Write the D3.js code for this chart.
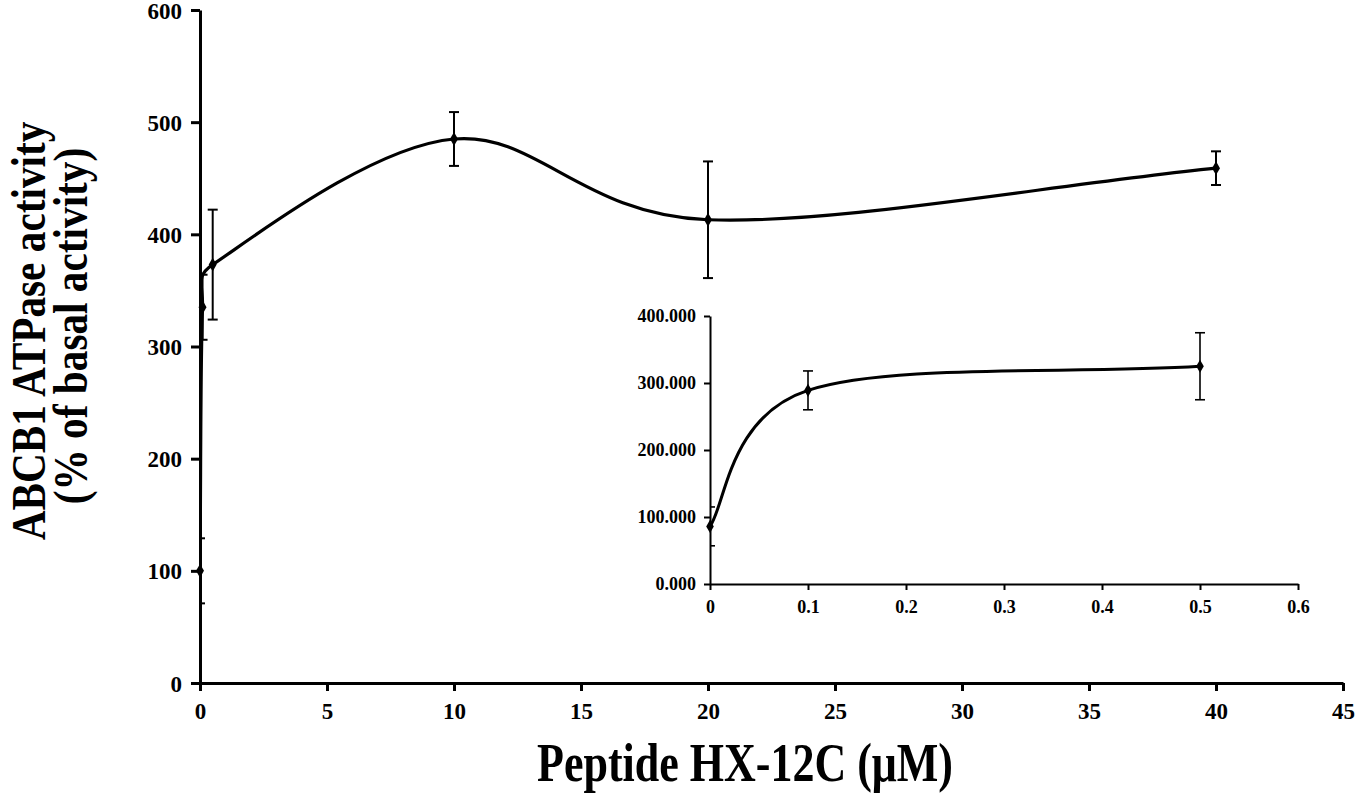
<!DOCTYPE html>
<html>
<head>
<meta charset="utf-8">
<script src="https://cdn.jsdelivr.net/npm/d3@7"></script>
<style>
  body { margin: 0; background: #fff; }
  text { font-family: "Liberation Serif", "Times New Roman", serif; font-weight: bold; }
</style>
</head>
<body>
<div class="viz"></div>
<script>
// main chart data (peptide concentration in uM, % of basal activity)
var conc = [0, 0.1, 0.5, 10, 20, 40];
var activity = [100, 335, 373, 485, 413, 459];
var activityErr = [29, 29, 49, 24, 52, 15];

// inset data (low concentration range)
var insetConc = [0, 0.1, 0.5];
var insetActivity = [86, 289, 325];
var insetErr = [29, 29, 50];

var xTicks = [0, 5, 10, 15, 20, 25, 30, 35, 40, 45];
var yTicks = [0, 100, 200, 300, 400, 500, 600];
var insetXTicks = [0, 0.1, 0.2, 0.3, 0.4, 0.5, 0.6];
var insetYTicks = [0, 100, 200, 300, 400];

var W = 1358, H = 795;

// spreadsheet-style smoothed line: bezier segments, control arms capped at half the segment
function SmoothCurve(context) { this._context = context; }
SmoothCurve.prototype = {
  areaStart: function() {}, areaEnd: function() {},
  lineStart: function() { this._p = []; },
  point: function(x, y) { this._p.push([+x, +y]); },
  lineEnd: function() {
    var p = this._p, n = p.length, c = this._context;
    if (!n) return;
    c.moveTo(p[0][0], p[0][1]);
    var dist = (a, b) => Math.hypot(b[0] - a[0], b[1] - a[1]);
    for (var i = 0; i < n - 1; i++) {
      var p0 = p[Math.max(i - 1, 0)], p1 = p[i], p2 = p[i + 1], p3 = p[Math.min(i + 2, n - 1)];
      var d12 = dist(p1, p2), d02 = dist(p0, p2), d13 = dist(p1, p3);
      var f1, f2;
      if (d02 / 6 < d12 / 2 && d13 / 6 < d12 / 2) {
        f1 = (i > 0) ? 1 / 6 : 1 / 3;
        f2 = (i + 2 < n) ? 1 / 6 : 1 / 3;
      } else if (d02 / 6 >= d12 / 2 && d13 / 6 >= d12 / 2) {
        f1 = d12 / 2 / d02;
        f2 = d12 / 2 / d13;
      } else if (d02 / 6 >= d12 / 2) {
        f1 = f2 = d12 / 2 / d02;
      } else {
        f1 = f2 = d12 / 2 / d13;
      }
      c.bezierCurveTo(
        p1[0] + (p2[0] - p0[0]) * f1, p1[1] + (p2[1] - p0[1]) * f1,
        p2[0] - (p3[0] - p1[0]) * f2, p2[1] - (p3[1] - p1[1]) * f2,
        p2[0], p2[1]);
    }
  }
};
var smooth = function(ctx) { return new SmoothCurve(ctx); };

var svg = d3.select(".viz")
  .append("svg")
    .attr("width", W)
    .attr("height", H);

// ---------- main chart ----------
var x = d3.scaleLinear().domain([0, 45]).range([200, 1343]);
var y = d3.scaleLinear().domain([0, 600]).range([683, 10]);

var defs = svg.append("defs");
defs.append("clipPath").attr("id", "mainClip")
  .append("rect").attr("x", 200).attr("y", 0).attr("width", 1150).attr("height", 690);
defs.append("clipPath").attr("id", "insetClip")
  .append("rect").attr("x", 710).attr("y", 300).attr("width", 600).attr("height", 290);

var xAxis = svg.append("g")
  .attr("transform", "translate(0," + y(0) + ")")
  .call(d3.axisBottom(x).tickValues(xTicks).tickSize(8).tickPadding(12).tickSizeOuter(0));
var yAxis = svg.append("g")
  .attr("transform", "translate(" + x(0) + ",0)")
  .call(d3.axisLeft(y).tickValues(yTicks).tickSize(9).tickPadding(9).tickSizeOuter(0));

[xAxis, yAxis].forEach(function(g) {
  g.select(".domain").attr("stroke", "#000").attr("stroke-width", 3);
  g.selectAll(".tick line").attr("stroke", "#000").attr("stroke-width", 3);
  g.selectAll(".tick text").attr("fill", "#000")
    .style("font-size", "23px").style("font-family", "Liberation Serif").style("font-weight", "bold");
});
yAxis.selectAll(".tick text").attr("dy", "0.35em");

var mainData = conc.map(function(c, i) { return {x: c, y: activity[i], e: activityErr[i]}; });

var mainG = svg.append("g").attr("clip-path", "url(#mainClip)");

// error bars
var eb = mainG.selectAll("g.err").data(mainData).enter().append("g").attr("class", "err");
eb.append("line")
  .attr("x1", d => x(d.x)).attr("x2", d => x(d.x))
  .attr("y1", d => y(d.y + d.e)).attr("y2", d => y(d.y - d.e))
  .attr("stroke", "#000").attr("stroke-width", 2);
eb.selectAll("line.cap").data(d => [[d.x, d.y + d.e], [d.x, d.y - d.e]]).enter()
  .append("line").attr("class", "cap")
  .attr("x1", d => x(d[0]) - 5).attr("x2", d => x(d[0]) + 5)
  .attr("y1", d => y(d[1])).attr("y2", d => y(d[1]))
  .attr("stroke", "#000").attr("stroke-width", 2);

mainG.append("path")
  .datum(mainData)
  .attr("fill", "none")
  .attr("stroke", "#000")
  .attr("stroke-width", 3.2)
  .attr("d", d3.line().x(d => x(d.x)).y(d => y(d.y)).curve(smooth));

svg.selectAll("path.mk").data(mainData).enter().append("path")
  .attr("class", "mk")
  .attr("transform", d => "translate(" + x(d.x) + "," + y(d.y) + ")")
  .attr("d", d3.symbol().type(d3.symbolDiamond).size(55))
  .attr("fill", "#000");

// axis titles (narrow, tall lettering as in the original)
svg.append("text")
  .attr("transform", "translate(45,331) rotate(-90) scale(0.86,1)")
  .attr("text-anchor", "middle")
  .style("font-size", "48px")
  .text("ABCB1 ATPase activity");
svg.append("text")
  .attr("transform", "translate(87,326) rotate(-90) scale(0.86,1)")
  .attr("text-anchor", "middle")
  .style("font-size", "48px")
  .text("(% of basal activity)");
svg.append("text")
  .attr("transform", "translate(745,781) scale(0.8,1)")
  .attr("text-anchor", "middle")
  .style("font-size", "55px")
  .text("Peptide HX-12C (\u03bcM)");

// ---------- inset ----------
var xi = d3.scaleLinear().domain([0, 0.6]).range([710, 1298]);
var yi = d3.scaleLinear().domain([0, 400]).range([584, 316]);

var xiAxis = svg.append("g")
  .attr("transform", "translate(0," + yi(0) + ")")
  .call(d3.axisBottom(xi).tickValues(insetXTicks).tickFormat(d3.format("")).tickSize(6).tickPadding(10).tickSizeOuter(0));
var yiAxis = svg.append("g")
  .attr("transform", "translate(" + xi(0) + ",0)")
  .call(d3.axisLeft(yi).tickValues(insetYTicks).tickFormat(d3.format(".3f")).tickSize(6).tickPadding(8).tickSizeOuter(0));

[xiAxis, yiAxis].forEach(function(g) {
  g.select(".domain").attr("stroke", "#000").attr("stroke-width", 2);
  g.selectAll(".tick line").attr("stroke", "#000").attr("stroke-width", 2);
  g.selectAll(".tick text").attr("fill", "#000")
    .style("font-size", "18px").style("font-family", "Liberation Serif").style("font-weight", "bold");
});

var insetData = insetConc.map(function(c, i) { return {x: c, y: insetActivity[i], e: insetErr[i]}; });
var insetG = svg.append("g").attr("clip-path", "url(#insetClip)");

var ebi = insetG.selectAll("g.err").data(insetData).enter().append("g").attr("class", "err");
ebi.append("line")
  .attr("x1", d => xi(d.x)).attr("x2", d => xi(d.x))
  .attr("y1", d => yi(d.y + d.e)).attr("y2", d => yi(d.y - d.e))
  .attr("stroke", "#000").attr("stroke-width", 1.6);
ebi.selectAll("line.cap").data(d => [[d.x, d.y + d.e], [d.x, d.y - d.e]]).enter()
  .append("line").attr("class", "cap")
  .attr("x1", d => xi(d[0]) - 5).attr("x2", d => xi(d[0]) + 5)
  .attr("y1", d => yi(d[1])).attr("y2", d => yi(d[1]))
  .attr("stroke", "#000").attr("stroke-width", 1.6);

insetG.append("path")
  .datum(insetData)
  .attr("fill", "none")
  .attr("stroke", "#000")
  .attr("stroke-width", 3)
  .attr("d", d3.line().x(d => xi(d.x)).y(d => yi(d.y)).curve(smooth));

svg.selectAll("path.mki").data(insetData).enter().append("path")
  .attr("class", "mki")
  .attr("transform", d => "translate(" + xi(d.x) + "," + yi(d.y) + ")")
  .attr("d", d3.symbol().type(d3.symbolDiamond).size(50))
  .attr("fill", "#000");
</script>
</body>
</html>
